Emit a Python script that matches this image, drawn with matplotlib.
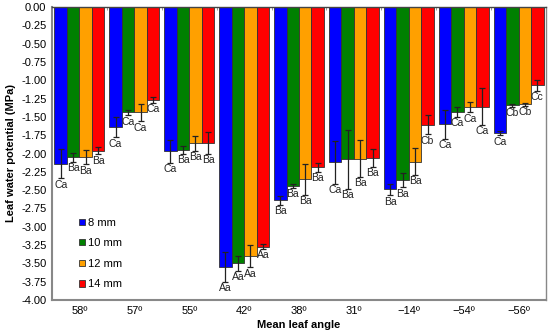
import numpy as np
import matplotlib
matplotlib.use('Agg')
import matplotlib.pyplot as plt

plt.rcParams['font.family'] = ['Liberation Sans', 'DejaVu Sans']

# Dados
angles = ['58º', '57º', '55º', '42º', '38º', '31º', '−14º', '−54º', '−56º']
series = ['8 mm', '10 mm', '12 mm', '14 mm']
colors = ['#0000ff', '#008000', '#ffa000', '#ff0000']

vals_8 = [-2.14, -1.64, -1.97, -3.55, -2.64, -2.12, -2.49, -1.60, -1.72]
vals_10 = [-2.05, -1.44, -1.95, -3.50, -2.44, -2.08, -2.36, -1.43, -1.34]
vals_12 = [-2.05, -1.44, -1.86, -3.40, -2.35, -2.07, -2.11, -1.37, -1.33]
vals_14 = [-1.96, -1.27, -1.85, -3.27, -2.19, -2.06, -1.61, -1.36, -1.07]

err_8 = [0.20, 0.14, 0.16, 0.20, 0.06, 0.29, 0.08, 0.20, 0.03]
err_10 = [0.06, 0.04, 0.05, 0.10, 0.03, 0.40, 0.10, 0.07, 0.02]
err_12 = [0.10, 0.12, 0.10, 0.15, 0.21, 0.25, 0.18, 0.07, 0.02]
err_14 = [0.05, 0.04, 0.15, 0.03, 0.06, 0.12, 0.13, 0.25, 0.07]

lab_8 = ['Ca', 'Ca', 'Ca', 'Aa', 'Ba', 'Ca', 'Ba', 'Ca', 'Ca']
lab_10 = ['Ba', 'Ca', 'Ba', 'Aa', 'Ba', 'Ba', 'Ba', 'Ca', 'Cb']
lab_12 = ['Ba', 'Ca', 'Ba', 'Aa', 'Ba', 'Ba', 'Ba', 'Ca', 'Cb']
lab_14 = ['Ba', 'Ca', 'Ba', 'Aa', 'Ba', 'Ba', 'Cb', 'Ca', 'Cc']

vals = [vals_8, vals_10, vals_12, vals_14]
errs = [err_8, err_10, err_12, err_14]
labs = [lab_8, lab_10, lab_12, lab_14]

fig = plt.figure(figsize=(5.5, 3.36), dpi=100)
ax = fig.add_axes([52 / 550, 36 / 336, 494 / 550, 293 / 336])

x = np.arange(len(angles))
w = 0.2275
for i in range(4):
    pos = x + (i - 1.5) * w
    ax.bar(pos, vals[i], w, color=colors[i], edgecolor='#333333', linewidth=0.6,
           label=series[i], zorder=2)
    ax.errorbar(pos, vals[i], yerr=errs[i], fmt='none', ecolor='#222222',
                elinewidth=0.9, capsize=2, capthick=0.9, zorder=3)
    for xp, v, e, t in zip(pos, vals[i], errs[i], labs[i]):
        ax.text(xp, v - e - 0.02, t, ha='center', va='top', fontsize=7.5, color='#222222')

ax.set_xlim(-0.5, len(angles) - 0.5)
ax.set_ylim(-4.0, 0.0)
ax.set_yticks(np.arange(-4.0, 0.01, 0.25))
ax.set_yticklabels(['%.2f' % v for v in np.arange(-4.0, 0.01, 0.25)])
ax.set_xticks(x)
ax.set_xticklabels(angles)
ax.tick_params(axis='both', length=0, labelsize=8, pad=4)
ax.set_xticks(np.arange(0.5, len(angles) - 1, 1), minor=True)
ax.tick_params(axis='x', which='minor', top=True, bottom=False, length=2,
               direction='in', color='#888888')

for s in ['left', 'bottom', 'right']:
    ax.spines[s].set_color('#888888')
ax.spines['left'].set_linewidth(1.5)
ax.spines['bottom'].set_linewidth(1.5)
ax.spines['right'].set_linewidth(1.0)
ax.spines['top'].set_color('#444444')
ax.spines['top'].set_linewidth(1.0)

ax.set_xlabel('Mean leaf angle', fontsize=8, fontweight='bold', labelpad=3)
ax.set_ylabel('Leaf water potential (MPa)', fontsize=8, fontweight='bold', labelpad=4)

ax.legend(loc='upper left', bbox_to_anchor=(0.035, 0.315), frameon=False, fontsize=8,
          handlelength=0.5, handleheight=0.5, handletextpad=0.3, labelspacing=0.95)

plt.savefig('out.png', dpi=100)
